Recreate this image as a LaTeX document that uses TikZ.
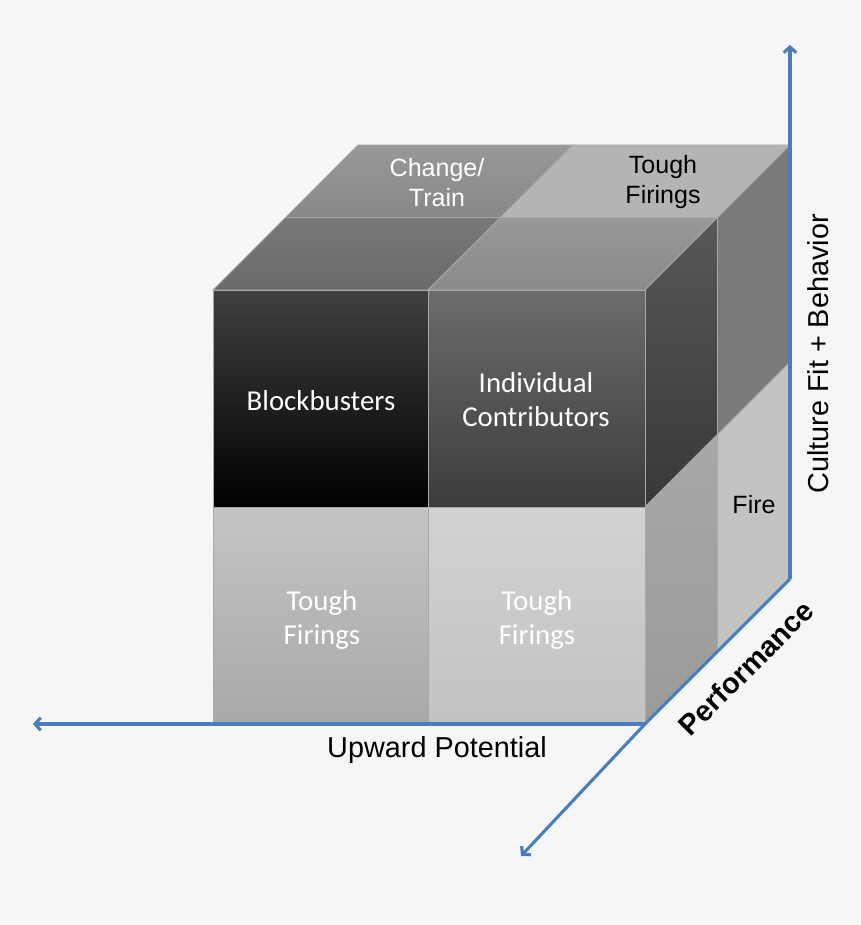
\documentclass[tikz,border=0pt]{standalone}
\usepackage{fontspec}
\setmainfont{Liberation Sans}
\newfontfamily\cubefont{Carlito}
\usetikzlibrary{arrows.meta}

\definecolor{paper}{HTML}{F6F6F6}
\definecolor{edgegray}{HTML}{A8A8A8}
\definecolor{axisblue}{HTML}{4A7EBB}

\tikzset{
  face/.style={draw=edgegray, line width=0.6pt},
  axis/.style={draw=axisblue, line width=2.2pt, -{Straight Barb[length=4pt,width=9pt]}},
  cubelabel/.style={white, align=center, font=\cubefont\fontsize{20.5}{24.2}\selectfont},
  toplabel/.style={align=center, font=\fontsize{17.8}{21.3}\selectfont},
  axislabel/.style={font=\fontsize{20.5}{24}\selectfont}
}

\begin{document}
\begin{tikzpicture}[x=0.025cm, y=-0.025cm]

% Fondo
	\fill[paper] (0,0) rectangle (860,925);
	\useasboundingbox (0,0) rectangle (860,925);

% Caras superiores
	\path[face, top color={rgb,255:red,152;green,152;blue,152}, bottom color={rgb,255:red,136;green,136;blue,136}] (285.5,217.5) -- (500.5,217.5) -- (573,145) -- (358,145) -- cycle;
	\path[face, fill={rgb,255:red,180;green,180;blue,180}] (500.5,217.5) -- (717.5,217.5) -- (790,145) -- (573,145) -- cycle;
	\path[face, top color={rgb,255:red,120;green,120;blue,120}, bottom color={rgb,255:red,106;green,106;blue,106}] (213,290) -- (428,290) -- (500.5,217.5) -- (285.5,217.5) -- cycle;
	\path[face, top color={rgb,255:red,152;green,152;blue,152}, bottom color={rgb,255:red,138;green,138;blue,138}] (428,290) -- (645,290) -- (717.5,217.5) -- (500.5,217.5) -- cycle;

% Caras laterales
	\path[face, fill={rgb,255:red,122;green,122;blue,122}] (717.5,217.5) -- (790,145) -- (790,362) -- (717.5,434.5) -- cycle;
	\path[face, top color={rgb,255:red,88;green,88;blue,88}, bottom color={rgb,255:red,56;green,56;blue,56}] (645,290) -- (717.5,217.5) -- (717.5,434.5) -- (645,507) -- cycle;
	\path[face, fill={rgb,255:red,194;green,194;blue,194}] (717.5,434.5) -- (790,362) -- (790,579) -- (717.5,651.5) -- cycle;
	\path[face, top color={rgb,255:red,168;green,168;blue,168}, bottom color={rgb,255:red,154;green,154;blue,154}] (645,507) -- (717.5,434.5) -- (717.5,651.5) -- (645,724) -- cycle;

% Caras frontales
	\path[face, top color={rgb,255:red,64;green,64;blue,64}, bottom color=black] (213,290) rectangle (428,507);
	\path[face, top color={rgb,255:red,108;green,108;blue,108}, bottom color={rgb,255:red,60;green,60;blue,60}] (428,290) rectangle (645,507);
	\path[face, top color={rgb,255:red,196;green,196;blue,196}, bottom color={rgb,255:red,168;green,168;blue,168}] (213,507) rectangle (428,724);
	\path[face, top color={rgb,255:red,210;green,210;blue,210}, bottom color={rgb,255:red,194;green,194;blue,194}] (428,507) rectangle (645,724);

% Textos del cubo
	\node[cubelabel] (blockbusters) at (321,401) {Blockbusters};
	\node[cubelabel] (contributors) at (536,400) {Individual\\Contributors};
	\node[cubelabel] (firingsleft) at (322,620) {Tough\\Firings};
	\node[cubelabel] (firingsright) at (537,620) {Tough\\Firings};
	\node[toplabel, white] (change) at (437,183) {Change/\\Train};
	\node[toplabel] (firingstop) at (663,182) {Tough\\Firings};
	\node[toplabel] (fire) at (754,505) {Fire};

% Ejes
	\coordinate (origin) at (645,724);
	\coordinate (corner) at (790,579);
	\coordinate (xend) at (33,724);
	\coordinate (yend) at (790,45);
	\coordinate (zend) at (521,856);

	\draw[axis] (origin) -- (xend);
	\draw[axis] (corner) -- (yend);
	\draw[axis] (corner) -- (origin) -- (zend);

	\node[axislabel] (potential) at (437,750) {Upward Potential};
	\node[axislabel, rotate=90] (culture) at (818,354) {Culture Fit + Behavior};
	\node[axislabel, rotate=45, font=\bfseries\fontsize{20.5}{24}\selectfont] (performance) at (746,668) {Performance};
\end{tikzpicture}
\end{document}
